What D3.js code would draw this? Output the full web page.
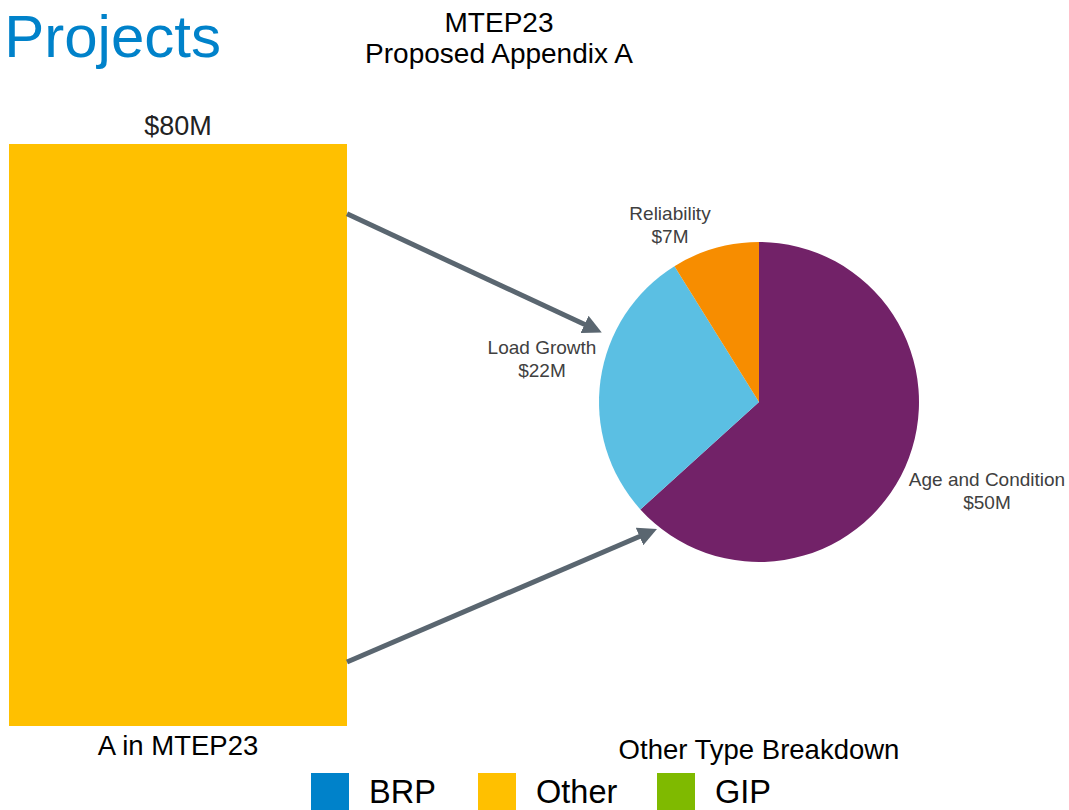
<!DOCTYPE html>
<html lang="en-US">
  <head>
    <meta charset="utf-8" />
    <script src="https://cdn.jsdelivr.net/npm/d3@7"></script>
    <style>
      body { margin: 0; background: #fff; }
      svg { display: block; }
      .narrow { font-family: "Liberation Sans Narrow", "Arial Narrow", "Liberation Sans", sans-serif; }
      .lbl { font-family: "Liberation Sans", Arial, sans-serif; fill: #404040; }
    </style>
    <title>MTEP23 Proposed Appendix A</title>
  </head>
  <body>
    <div id="chart"></div>
    <script>
      // bar: total of Appendix A "Other" projects
      var barCategories = ["A in MTEP23"];
      var barValues = [80];
      var barLabels = ["$80M"];

      // pie: other type breakdown
      var pieNames = ["Age and Condition", "Load Growth", "Reliability"];
      var pieValues = [50, 22, 7];
      var pieLabels = ["$50M", "$22M", "$7M"];
      var pieColors = ["#722268", "#5BBFE3", "#F78D00"];

      var legendNames = ["BRP", "Other", "GIP"];
      var legendColors = ["#0082CA", "#FFC000", "#7FBA00"];

      var width = 1069, height = 810;

      var svg = d3.select("#chart").append("svg")
        .attr("width", width)
        .attr("height", height);

      // page title
      svg.append("text")
        .attr("x", 221).attr("y", 57)
        .attr("text-anchor", "end")
        .style("font-family", "Liberation Sans, Arial, sans-serif")
        .style("font-size", "60px")
        .attr("fill", "#0082CA")
        .text("Projects");

      var title = svg.append("text")
        .attr("class", "narrow")
        .attr("text-anchor", "middle")
        .style("font-size", "28px")
        .attr("fill", "#000");
      title.append("tspan").attr("x", 499).attr("y", 32).text("MTEP23");
      title.append("tspan").attr("x", 499).attr("y", 63).text("Proposed Appendix A");

      // ---- bar
      var bar_x = d3.scaleBand().domain(barCategories).range([9, 347]).padding(0);
      var bar_y = d3.scaleLinear().domain([0, 80]).range([726, 144]);

      svg.selectAll(".bar")
        .data(barValues)
        .enter()
        .append("rect")
        .attr("class", "bar")
        .attr("x", (d, i) => bar_x(barCategories[i]))
        .attr("width", bar_x.bandwidth())
        .attr("y", d => bar_y(d))
        .attr("height", d => bar_y(0) - bar_y(d))
        .attr("fill", "#FFC000");

      svg.selectAll(".barval")
        .data(barValues)
        .enter()
        .append("text")
        .attr("class", "narrow")
        .attr("text-anchor", "middle")
        .attr("x", (d, i) => bar_x(barCategories[i]) + bar_x.bandwidth() / 2)
        .attr("y", d => bar_y(d) - 9)
        .style("font-size", "27px")
        .attr("fill", "#222")
        .text((d, i) => barLabels[i]);

      svg.selectAll(".barcat")
        .data(barCategories)
        .enter()
        .append("text")
        .attr("class", "narrow")
        .attr("text-anchor", "middle")
        .attr("x", d => bar_x(d) + bar_x.bandwidth() / 2)
        .attr("y", bar_y(0) + 29)
        .style("font-size", "27.5px")
        .attr("fill", "#000")
        .text(d => d);

      // ---- pie
      var cx = 759, cy = 402, radius = 160;
      var pie = d3.pie().sort(null).value(d => d);
      var arc = d3.arc().innerRadius(0).outerRadius(radius);
      var arcs = pie(pieValues);

      var g = svg.append("g").attr("transform", "translate(" + cx + "," + cy + ")");
      g.selectAll("path")
        .data(arcs)
        .enter()
        .append("path")
        .attr("d", arc)
        .attr("fill", (d, i) => pieColors[i]);

      // label positions relative to the pie centre
      var labelPos = [[228, 84], [-217, -48], [-89, -182]];
      var lab = g.selectAll(".plabel")
        .data(arcs)
        .enter()
        .append("text")
        .attr("class", "lbl")
        .attr("text-anchor", "middle")
        .style("font-size", "19px");
      lab.append("tspan")
        .attr("x", (d, i) => labelPos[i][0])
        .attr("y", (d, i) => labelPos[i][1])
        .text((d, i) => pieNames[i]);
      lab.append("tspan")
        .attr("x", (d, i) => labelPos[i][0])
        .attr("y", (d, i) => labelPos[i][1] + 23)
        .text((d, i) => pieLabels[i]);

      svg.append("text")
        .attr("class", "narrow")
        .attr("text-anchor", "middle")
        .attr("x", cx)
        .attr("y", 759)
        .style("font-size", "27.5px")
        .attr("fill", "#000")
        .text("Other Type Breakdown");

      // ---- arrows from bar to pie
      svg.append("defs").append("marker")
        .attr("id", "head")
        .attr("viewBox", "0 0 10 10")
        .attr("refX", 2).attr("refY", 5)
        .attr("markerWidth", 3.8).attr("markerHeight", 3.8)
        .attr("orient", "auto")
        .append("path")
        .attr("d", "M0,0 L10,5 L0,10 z")
        .attr("fill", "#5A6670");

      var barRight = bar_x(barCategories[0]) + bar_x.bandwidth();
      var arrows = [
        [[barRight, bar_y(70.4)], [588, 326]],
        [[barRight, bar_y(8.8)], [643, 535]]
      ];
      svg.selectAll(".arrow")
        .data(arrows)
        .enter()
        .append("line")
        .attr("x1", d => d[0][0]).attr("y1", d => d[0][1])
        .attr("x2", d => d[1][0]).attr("y2", d => d[1][1])
        .attr("stroke", "#5A6670")
        .attr("stroke-width", 5)
        .attr("marker-end", "url(#head)");

      // ---- legend
      var legX = [311, 478, 657];
      var leg = svg.selectAll(".key")
        .data(legendNames)
        .enter()
        .append("g")
        .attr("transform", (d, i) => "translate(" + legX[i] + ",773)");
      leg.append("rect")
        .attr("width", 38).attr("height", 37)
        .attr("fill", (d, i) => legendColors[i]);
      leg.append("text")
        .attr("class", "narrow")
        .attr("x", 58).attr("y", 30)
        .style("font-size", "32.5px")
        .attr("fill", "#000")
        .text(d => d);
    </script>
  </body>
</html>
